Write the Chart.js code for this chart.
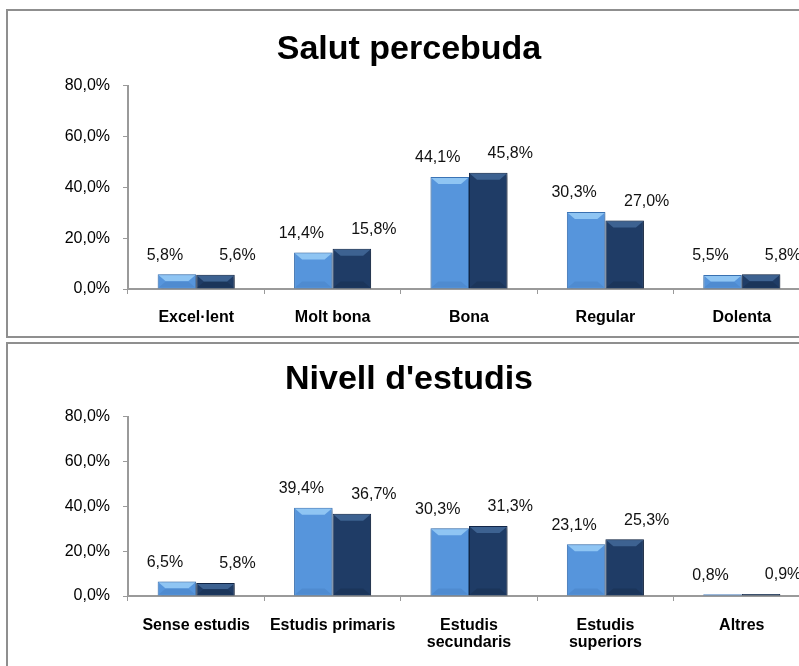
<!DOCTYPE html>
<html>
<head>
<meta charset="utf-8">
<script src="https://cdn.jsdelivr.net/npm/chart.js@4/dist/chart.umd.min.js"></script>
<style>
  html, body { margin: 0; padding: 0; background: #fff; overflow: hidden; width: 799px; height: 666px; }
  .box { position: absolute; left: 6px; border: 2px solid #8f8f8f; background: #fff; }
  #box1 { top: 9px; }
  #box2 { top: 342px; }
  canvas { display: block; }
</style>
</head>
<body>
<div class="box" id="box1"><canvas id="salut" width="806" height="325"></canvas></div>
<div class="box" id="box2"><canvas id="estudis" width="806" height="330"></canvas></div>

<script>
// Data
const salutLabels = ['Excel·lent', 'Molt bona', 'Bona', 'Regular', 'Dolenta'];
const salutA = [5.8, 14.4, 44.1, 30.3, 5.5];
const salutB = [5.6, 15.8, 45.8, 27.0, 5.8];

const estudisLabels = ['Sense estudis', 'Estudis primaris', ['Estudis', 'secundaris'], ['Estudis', 'superiors'], 'Altres'];
const estudisA = [6.5, 39.4, 30.3, 23.1, 0.8];
const estudisB = [5.8, 36.7, 31.3, 25.3, 0.9];

const yTicks = [0, 20, 40, 60, 80];

// Style
const FONT = "Arial, 'Liberation Sans', sans-serif";
const colors = [
  { body: '#5695dc', top: '#8fc5f3', bottom: '#4f8bd0', border: '#3c77bb' },
  { body: '#1f3c66', top: '#3d6291', bottom: '#1b355a', border: '#13284a' }
];
const labelDx = [-12, 22];

function pct(v) {
  return v.toFixed(1).replace('.', ',') + '%';
}

// bevel look on the bars
const bevelPlugin = {
  id: 'bevel',
  beforeDatasetsDraw(chart) {
    chart.ctx.save();
    chart.ctx.shadowColor = 'rgba(0,0,0,0.35)';
    chart.ctx.shadowBlur = 3;
    chart.ctx.shadowOffsetX = 1;
    chart.ctx.shadowOffsetY = 1;
  },
  afterDatasetsDraw(chart) {
    const ctx = chart.ctx;
    ctx.restore();
    chart.data.datasets.forEach((ds, i) => {
      const c = colors[i];
      chart.getDatasetMeta(i).data.forEach(bar => {
        const l = bar.x - bar.width / 2, r = bar.x + bar.width / 2;
        const t = bar.y, b = bar.base;
        const h = b - t;
        if (h < 2) return;
        const band = Math.min(7, h / 2);
        ctx.fillStyle = c.top;
        ctx.beginPath();
        ctx.moveTo(l + 1, t + 1); ctx.lineTo(r - 1, t + 1);
        ctx.lineTo(r - 1 - band, t + band); ctx.lineTo(l + 1 + band, t + band);
        ctx.closePath(); ctx.fill();
        ctx.fillStyle = c.bottom;
        ctx.beginPath();
        ctx.moveTo(l + 1, b - 1); ctx.lineTo(r - 1, b - 1);
        ctx.lineTo(r - 1 - band, b - band); ctx.lineTo(l + 1 + band, b - band);
        ctx.closePath(); ctx.fill();
      });
    });
  }
};

const valueLabels = {
  id: 'valueLabels',
  afterDatasetsDraw(chart) {
    const ctx = chart.ctx;
    ctx.save();
    ctx.font = '16px ' + FONT;
    ctx.fillStyle = '#111';
    ctx.textAlign = 'center';
    ctx.textBaseline = 'middle';
    chart.data.datasets.forEach((ds, i) => {
      chart.getDatasetMeta(i).data.forEach((bar, j) => {
        ctx.fillText(pct(ds.data[j]), bar.x + labelDx[i], bar.y - 19);
      });
    });
    ctx.restore();
  }
};

function makeChart(id, title, labels, a, b, pad, titlePad, tickPad) {
  return new Chart(document.getElementById(id), {
    type: 'bar',
    data: {
      labels: labels,
      datasets: [
        { label: 'Sèrie 1', data: a, backgroundColor: colors[0].body, borderColor: colors[0].border, borderWidth: 1 },
        { label: 'Sèrie 2', data: b, backgroundColor: colors[1].body, borderColor: colors[1].border, borderWidth: 1 }
      ]
    },
    options: {
      responsive: false,
      animation: false,
      categoryPercentage: 0.565,
      barPercentage: 1,
      layout: { padding: pad },
      plugins: {
        legend: { display: false },
        tooltip: { enabled: false },
        title: {
          display: true,
          text: title,
          color: '#000',
          font: { family: FONT, size: 34, weight: 'bold' },
          padding: titlePad
        }
      },
      scales: {
        x: {
          grid: { drawOnChartArea: false, tickLength: 5, color: '#9a9a9a', lineWidth: 1 },
          border: { color: '#9a9a9a', width: 2 },
          ticks: {
            color: '#000',
            padding: tickPad,
            maxRotation: 0,
            autoSkip: false,
            font: { family: FONT, size: 16, weight: 'bold', lineHeight: 17 / 16 }
          }
        },
        y: {
          min: 0,
          max: 80,
          afterBuildTicks: axis => { axis.ticks = yTicks.map(v => ({ value: v })); },
          afterFit: axis => { axis.width = 120; },
          grid: { drawOnChartArea: false, tickLength: 5, color: '#9a9a9a', lineWidth: 1 },
          border: { color: '#9a9a9a', width: 2 },
          ticks: {
            color: '#000',
            padding: 13,
            font: { family: FONT, size: 16 },
            callback: v => pct(v)
          }
        }
      }
    },
    plugins: [bevelPlugin, valueLabels]
  });
}

makeChart('salut', 'Salut percebuda', salutLabels, salutA, salutB,
  { left: 0, right: 4, top: 0, bottom: -5 }, { top: 18, bottom: 16 }, 15);
makeChart('estudis', "Nivell d'estudis", estudisLabels, estudisA, estudisB,
  { left: 0, right: 4, top: 0, bottom: 7 }, { top: 15, bottom: 17 }, 16);
</script>
</body>
</html>
